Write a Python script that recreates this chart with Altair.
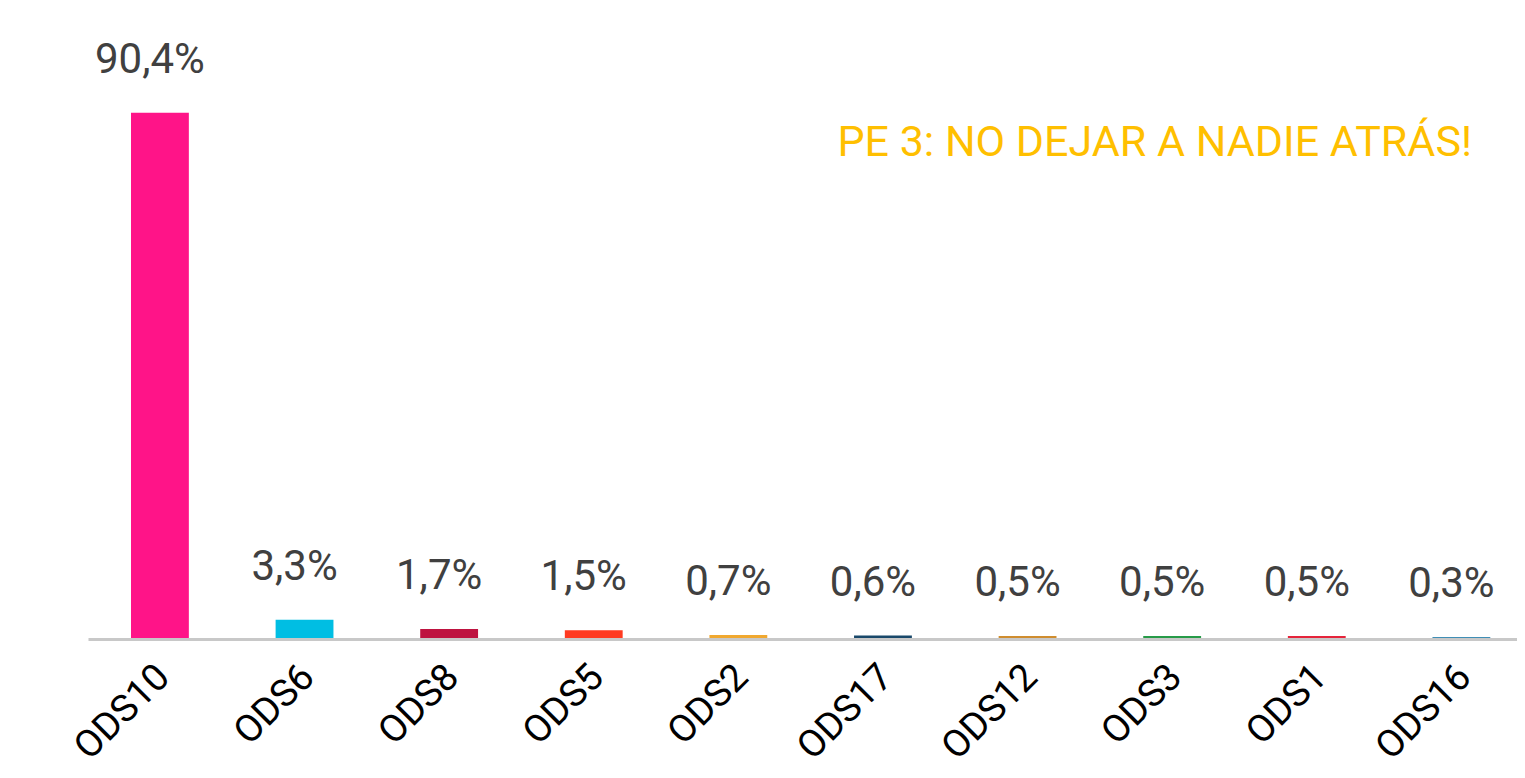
import altair as alt
import pandas as pd

categories = ["ODS10", "ODS6", "ODS8", "ODS5", "ODS2", "ODS17", "ODS12", "ODS3", "ODS1", "ODS16"]
values = [90.4, 3.3, 1.7, 1.5, 0.7, 0.6, 0.5, 0.5, 0.5, 0.3]
colors = ["#FF1488", "#00BEE3", "#BE1340", "#FF3A21", "#F0A830", "#19486A", "#CF8D2E", "#279B48", "#E5243B", "#00689D"]
title_text = "PE 3: NO DEJAR A NADIE ATRÁS!"

df = pd.DataFrame({
    "cat": categories,
    "val": values,
    "color": colors,
    "label": [f"{v:.1f}".replace(".", ",") + "%" for v in values],
})

FONT = "Roboto"

xscale = alt.Scale(paddingInner=0.6, paddingOuter=0.241, align=0.617)
x = alt.X("cat:N", sort=categories, title=None, scale=xscale,
          axis=alt.Axis(labelAngle=-45, labelAlign="right", labelBaseline="middle",
                        labelFontSize=38, labelFont=FONT, labelColor="#000000",
                        ticks=False, domainColor="#C8C8C8", domainWidth=3,
                        labelPadding=32, labelOffset=4, zindex=1))
y = alt.Y("val:Q", scale=alt.Scale(domain=[0, 100]), axis=None)

bars = alt.Chart(df).mark_bar().encode(
    x=x, y=y, color=alt.Color("color:N", scale=None)
)

labels = alt.Chart(df).mark_text(
    font=FONT, fontSize=42, color="#404040", baseline="alphabetic", dy=-40, dx=-10
).encode(x=alt.X("cat:N", sort=categories, scale=xscale), y=y, text="label:N")

title = alt.Chart(pd.DataFrame({"t": [title_text]})).mark_text(
    font=FONT, fontSize=43, color="#FFBF00", align="right", baseline="middle"
).encode(x=alt.value(1384), y=alt.value(86), text="t:N")

chart = alt.layer(bars, labels, title).properties(
    width=1429, height=582,
    autosize=alt.AutoSizeParams(type="none"),
    padding={"left": 80, "top": 49, "right": 0, "bottom": 132},
).configure_view(stroke=None)

chart.save("out.html", embed_options={"renderer": "svg", "actions": False})
